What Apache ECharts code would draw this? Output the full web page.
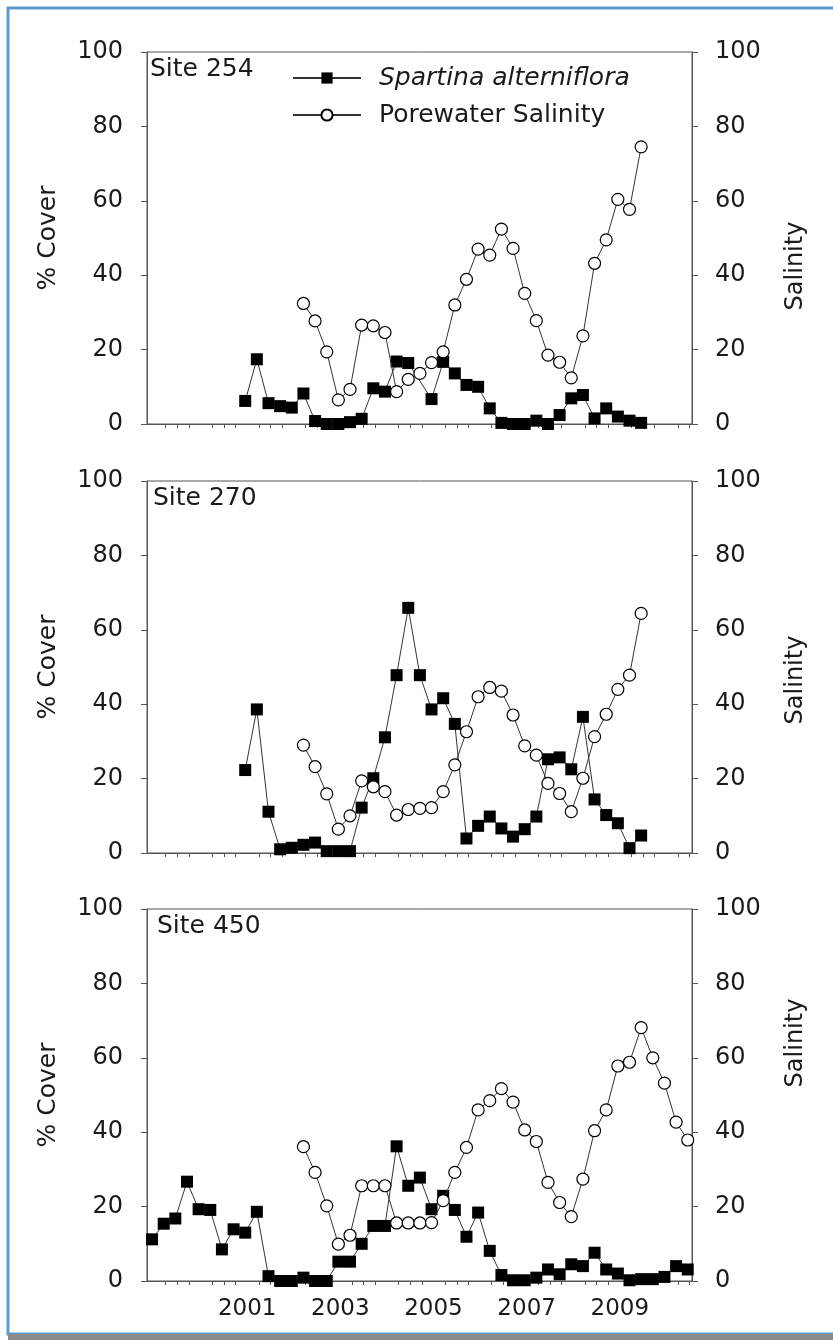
<!DOCTYPE html>
<html>
<head>
<meta charset="utf-8">
<script src="https://cdn.jsdelivr.net/npm/echarts@6/dist/echarts.min.js"></script>
<style>
  html, body { margin: 0; padding: 0; background: #fff; }
  #chart { width: 833px; height: 1344px; }
</style>
</head>
<body>
<div id="chart"></div>
<script>
// quarterly sampling dates (year-month) and values
let site254CoverDates = ['2000-12','2001-03','2001-06','2001-09','2001-12','2002-03','2002-06','2002-09','2002-12','2003-03','2003-06','2003-09','2003-12','2004-03','2004-06','2004-12','2005-03','2005-06','2005-09','2005-12','2006-03','2006-06','2006-09','2006-12','2007-03','2007-06','2007-09','2007-12','2008-03','2008-06','2008-09','2008-12','2009-03','2009-06'];
let site254Cover = [6.2,17.4,5.6,4.8,4.4,8.2,0.8,0,0,0.5,1.4,9.6,8.7,16.8,16.4,6.7,16.7,13.6,10.5,10.0,4.2,0.3,0,0,0.9,0,2.4,6.9,7.8,1.5,4.2,2.0,0.9,0.3];
let site254SalDates = ['2002-03','2002-06','2002-09','2002-12','2003-03','2003-06','2003-09','2003-12','2004-03','2004-06','2004-09','2004-12','2005-03','2005-06','2005-09','2005-12','2006-03','2006-06','2006-09','2006-12','2007-03','2007-06','2007-09','2007-12','2008-03','2008-06','2008-09','2008-12','2009-03','2009-06'];
let site254Sal = [32.4,27.7,19.4,6.5,9.3,26.6,26.4,24.6,8.7,12.0,13.6,16.5,19.4,32.0,38.9,47.0,45.4,52.4,47.2,35.1,27.8,18.5,16.6,12.4,23.7,43.2,49.5,60.4,57.7,74.5];

let site270CoverDates = ['2000-12','2001-03','2001-06','2001-09','2001-12','2002-03','2002-06','2002-09','2002-12','2003-03','2003-06','2003-09','2003-12','2004-03','2004-06','2004-09','2004-12','2005-03','2005-06','2005-09','2005-12','2006-03','2006-06','2006-09','2006-12','2007-03','2007-06','2007-09','2007-12','2008-03','2008-06','2008-09','2008-12','2009-03','2009-06'];
let site270Cover = [22.3,38.6,11.1,1.0,1.4,2.2,2.8,0.5,0.5,0.5,12.2,20.1,31.1,47.8,65.9,47.8,38.6,41.6,34.7,3.9,7.3,9.8,6.6,4.4,6.4,9.8,25.2,25.7,22.5,36.6,14.4,10.2,8.0,1.3,4.7];
let site270SalDates = site254SalDates;
let site270Sal = [29.0,23.2,15.9,6.4,10.0,19.4,17.8,16.5,10.2,11.7,12.0,12.2,16.5,23.7,32.6,42.0,44.5,43.5,37.1,28.8,26.3,18.7,16.0,11.1,20.1,31.3,37.3,44.0,47.8,64.4];

let site450CoverDates = ['1998-12','1999-03','1999-06','1999-09','1999-12','2000-03','2000-06','2000-09','2000-12','2001-03','2001-06','2001-09','2001-12','2002-03','2002-06','2002-09','2002-12','2003-03','2003-06','2003-09','2003-12','2004-03','2004-06','2004-09','2004-12','2005-03','2005-06','2005-09','2005-12','2006-03','2006-06','2006-09','2006-12','2007-03','2007-06','2007-09','2007-12','2008-03','2008-06','2008-09','2008-12','2009-03','2009-06','2009-09','2009-12','2010-03','2010-06'];
let site450Cover = [11.2,15.4,16.8,26.7,19.3,19.1,8.5,13.9,13.0,18.6,1.3,0,0,0.9,0,0,5.2,5.2,10.0,14.8,14.8,36.2,25.6,27.8,19.3,22.9,19.1,11.9,18.4,8.1,1.6,0.2,0.2,0.9,3.1,1.8,4.5,4.0,7.6,3.1,2.0,0.2,0.5,0.5,1.1,4.0,3.1];
let site450SalDates = ['2002-03','2002-06','2002-09','2002-12','2003-03','2003-06','2003-09','2003-12','2004-03','2004-06','2004-09','2004-12','2005-03','2005-06','2005-09','2005-12','2006-03','2006-06','2006-09','2006-12','2007-03','2007-06','2007-09','2007-12','2008-03','2008-06','2008-09','2008-12','2009-03','2009-06','2009-09','2009-12','2010-03','2010-06'];
let site450Sal = [36.1,29.2,20.2,9.9,12.3,25.6,25.6,25.6,15.6,15.6,15.6,15.7,21.6,29.2,35.9,46.0,48.5,51.7,48.1,40.6,37.5,26.5,21.1,17.3,27.4,40.4,46.0,57.8,58.8,68.1,60.0,53.2,42.7,37.9];

let siteNames = ['Site 254', 'Site 270', 'Site 450'];
let yearLabels = [2001, 2003, 2005, 2007, 2009];

let font = '"DejaVu Sans", sans-serif';
let axisColor = '#555';
let textColor = '#1a1a1a';

function toYear(s) {
    let p = s.split('-');
    return Number(p[0]) + (Number(p[1]) - 0.5) / 12;
}
function pairs(dates, vals) {
    return dates.map((d, i) => [toYear(d), vals[i]]);
}

// quarter ticks between the year marks
let quarterTicks = [];
for (let y = 1999; y <= 2010; y++) {
    [0.25, 0.5, 0.75].forEach(q => quarterTicks.push(y + q));
}

let panels = [
    { cover: pairs(site254CoverDates, site254Cover), sal: pairs(site254SalDates, site254Sal), top: 52, salShift: 28 },
    { cover: pairs(site270CoverDates, site270Cover), sal: pairs(site270SalDates, site270Sal), top: 481, salShift: 13 },
    { cover: pairs(site450CoverDates, site450Cover), sal: pairs(site450SalDates, site450Sal), top: 909, salShift: -52 }
];

let grid = [], xAxis = [], yAxis = [], series = [], title = [];
panels.forEach((p, i) => {
    grid.push({ left: 147, right: 141, top: p.top, height: 372, show: true, borderColor: axisColor, borderWidth: 1 });
    xAxis.push({
        gridIndex: i, type: 'value', min: 1998.85, max: 2010.55,
        axisLine: { lineStyle: { color: axisColor } },
        axisTick: { customValues: quarterTicks, length: 4, lineStyle: { color: axisColor } },
        axisLabel: {
            show: i === 2, customValues: yearLabels, formatter: v => String(v),
            fontFamily: font, fontSize: 23, color: textColor, margin: 17
        },
        splitLine: { show: false }
    });
    let sh = p.salShift;
    yAxis.push({
        gridIndex: i, type: 'value', min: 0, max: 100, interval: 20, position: 'left',
        name: '% Cover', nameLocation: 'middle', nameRotate: 90, nameGap: 86,
        nameTextStyle: { fontFamily: font, fontSize: 25, color: textColor },
        axisLine: { show: true, lineStyle: { color: axisColor } },
        axisTick: { show: true, length: 6, lineStyle: { color: axisColor } },
        axisLabel: { fontFamily: font, fontSize: 24, color: textColor, margin: 24 },
        splitLine: { show: false }
    });
    yAxis.push({
        gridIndex: i, type: 'value', min: 0, max: 100, interval: 20, position: 'right',
        name: 'Salinity', nameLocation: 'middle', nameRotate: 90, nameGap: 92,
        nameTextStyle: {
            fontFamily: font, fontSize: 24, color: textColor,
            padding: sh >= 0 ? [0, 2 * sh, 0, 0] : [0, 0, 0, -2 * sh]
        },
        axisLine: { show: true, lineStyle: { color: axisColor } },
        axisTick: { show: true, length: 6, lineStyle: { color: axisColor } },
        axisLabel: { fontFamily: font, fontSize: 24, color: textColor, margin: 23 },
        splitLine: { show: false }
    });
    series.push({
        name: 'Spartina alterniflora', type: 'line', xAxisIndex: i, yAxisIndex: 2 * i,
        data: p.cover, symbol: 'rect', symbolSize: 12, showAllSymbol: true,
        lineStyle: { color: '#333', width: 1 },
        itemStyle: { color: '#000' },
        animation: false, z: 2
    });
    series.push({
        name: 'Porewater Salinity', type: 'line', xAxisIndex: i, yAxisIndex: 2 * i + 1,
        data: p.sal, symbol: 'circle', symbolSize: 12, showAllSymbol: true,
        lineStyle: { color: '#333', width: 1 },
        itemStyle: { color: '#fff', borderColor: '#000', borderWidth: 1.2 },
        animation: false, z: 3
    });
    title.push({
        text: siteNames[i], left: [150, 153, 157][i], top: p.top + 5, padding: 0,
        textStyle: { fontFamily: font, fontSize: 25, fontWeight: 'normal', color: textColor }
    });
});

let chart = echarts.init(document.getElementById('chart'), null, { renderer: 'canvas' });
chart.setOption({
    backgroundColor: '#fff',
    animation: false,
    title: title,
    legend: {
        left: 292, top: 65, orient: 'vertical', padding: 0,
        itemWidth: 68, itemHeight: 14, itemGap: 11,
        data: ['Spartina alterniflora', 'Porewater Salinity'],
        formatter: name => name === 'Spartina alterniflora' ? '{i|' + name + '}' : name,
        textStyle: {
            fontFamily: font, fontSize: 25, color: textColor, lineHeight: 26, padding: [0, 0, 0, 13],
            rich: { i: { fontStyle: 'italic', fontFamily: font, fontSize: 25, color: textColor } }
        }
    },
    grid: grid,
    xAxis: xAxis,
    yAxis: yAxis,
    series: series,
    graphic: [
        { type: 'rect', shape: { x: 8, y: 8, width: 840, height: 1326 }, style: { fill: 'none', stroke: '#5b9bd5', lineWidth: 3 }, silent: true },
        { type: 'rect', shape: { x: 8, y: 1334, width: 840, height: 6 }, style: { fill: '#8a8a8a' }, silent: true }
    ]
});
</script>
</body>
</html>
